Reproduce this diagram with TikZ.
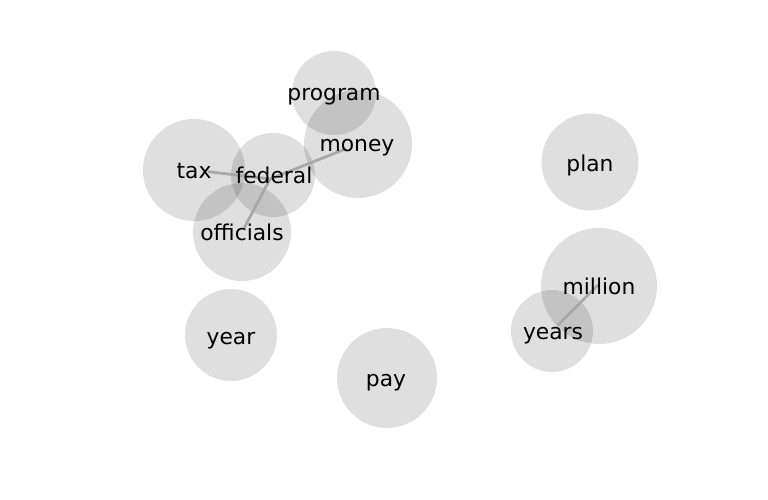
\documentclass[tikz,border=0pt]{standalone}
\usepackage{fontspec}
\setmainfont{DejaVu Sans}
\begin{document}
\begin{tikzpicture}[x=1pt,y=-1pt,
  bubble/.style={circle,fill=black,fill opacity=0.125,draw=none,inner sep=0pt},
  word/.style={text=black,font=\fontsize{21.8}{26}\selectfont,inner sep=0pt,text height=16pt,text depth=0pt},
  link/.style={draw={rgb,255:red,168;green,168;blue,168},line width=2.8pt}]
\useasboundingbox (0,0) rectangle (768,500);
% circles
\node[bubble,minimum size=84pt]  (cprogram)   at (334,93)  {};
\node[bubble,minimum size=108pt] (cmoney)     at (358,144) {};
\node[bubble,minimum size=102pt] (ctax)       at (194,170) {};
\node[bubble,minimum size=84pt]  (cfederal)   at (273,175) {};
\node[bubble,minimum size=98pt]  (cofficials) at (242,232) {};
\node[bubble,minimum size=97pt]  (cplan)      at (590,162) {};
\node[bubble,minimum size=116pt] (cmillion)   at (599,286) {};
\node[bubble,minimum size=82pt]  (cyears)     at (552,331) {};
\node[bubble,minimum size=92pt]  (cyear)      at (231,335) {};
\node[bubble,minimum size=100pt] (cpay)       at (387,378) {};
% edge hubs
\coordinate (fedhub) at (270,179);
\coordinate (taxhub) at (194,170);
\coordinate (moneyhub) at (358,144);
\coordinate (offhub) at (242,232);
\coordinate (millhub) at (598,285);
\coordinate (yearshub) at (552,331);
% connectors
\draw[link,shorten <=14pt] (taxhub) -- (fedhub);
\draw[link,shorten >=13pt] (fedhub) -- (moneyhub);
\draw[link,shorten >=5pt] (fedhub) -- (offhub);
\draw[link,shorten >=8pt] (millhub) -- (yearshub);
% labels
\node[word] (program)   at (334,93)  {program};
\node[word] (money)     at (357,143) {money};
\node[word] (tax)       at (194,170) {tax};
\node[word] (federal)   at (274,175) {federal};
\node[word] (officials) at (242,232) {officials};
\node[word] (plan)      at (590,163) {plan};
\node[word] (million)   at (599,286) {million};
\node[word] (years)     at (553,331) {years};
\node[word] (year)      at (231,336) {year};
\node[word] (pay)       at (386,378) {pay};
\end{tikzpicture}
\end{document}
